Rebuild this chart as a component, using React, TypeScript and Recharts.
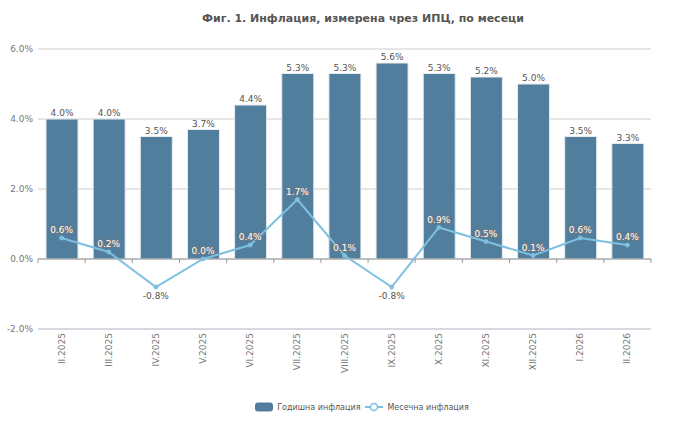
import React from "react";
import {
  ComposedChart,
  Bar,
  Line,
  XAxis,
  YAxis,
  CartesianGrid,
  ReferenceLine,
  LabelList,
  Legend,
} from "recharts";

const categories = [
  "II.2025", "III.2025", "IV.2025", "V.2025", "VI.2025", "VII.2025", "VIII.2025",
  "IX.2025", "X.2025", "XI.2025", "XII.2025", "I.2026", "II.2026",
];
const annualInflation = [4.0, 4.0, 3.5, 3.7, 4.4, 5.3, 5.3, 5.6, 5.3, 5.2, 5.0, 3.5, 3.3];
const monthlyInflation = [0.6, 0.2, -0.8, 0.0, 0.4, 1.7, 0.1, -0.8, 0.9, 0.5, 0.1, 0.6, 0.4];
const yTicks = [-2, 0, 2, 4, 6];

const data = categories.map((c, i) => ({
  name: c,
  annual: annualInflation[i],
  monthly: monthlyInflation[i],
}));

const FONT = "'DejaVu Sans', sans-serif";
const BAR_COLOR = "#527e9e";
const LINE_COLOR = "#7dc0e1";
const TEXT = "#555";

const fmt = (v: number) => `${v.toFixed(1)}%`;

const XTick = (props: any) => {
  const { x, y, payload } = props;
  return (
    <text
      x={x}
      y={y}
      transform={`rotate(-90, ${x}, ${y})`}
      textAnchor="end"
      dominantBaseline="central"
      fill="#777"
      fontSize={9}
      fontFamily={FONT}
    >
      {payload.value}
    </text>
  );
};

const ZeroAxis = (props: any) => {
  const { x1, y1, x2 } = props;
  const n = categories.length;
  const ticks = [];
  for (let i = 0; i <= n; i++) {
    const x = x1 + ((x2 - x1) * i) / n;
    ticks.push(<line key={i} x1={x} x2={x} y1={y1} y2={y1 + 4} stroke="#999" strokeWidth={1} />);
  }
  return (
    <g>
      <line x1={x1} x2={x2} y1={y1} y2={y1} stroke="#999" strokeWidth={1} />
      {ticks}
    </g>
  );
};

const MonthlyLabel = (props: any) => {
  const { x, y, value } = props;
  if (value < 0) {
    return (
      <text x={x} y={y + 9} textAnchor="middle" dominantBaseline="central" fontSize={9} fontFamily={FONT} fill={TEXT}>
        {fmt(value)}
      </text>
    );
  }
  return (
    <text
      x={x}
      y={y - 8}
      textAnchor="middle"
      dominantBaseline="central"
      fontSize={9}
      fontFamily={FONT}
      fill="#fff"
      stroke="#777"
      strokeWidth={1.6}
      paintOrder="stroke"
      strokeLinejoin="round"
    >
      {fmt(value)}
    </text>
  );
};

const LegendContent = () => (
  <div
    style={{
      display: "flex",
      justifyContent: "center",
      alignItems: "center",
      width: 696,
      height: 20,
      paddingLeft: 28,
      boxSizing: "border-box",
      fontFamily: FONT,
      fontSize: 8,
      color: TEXT,
    }}
  >
    <svg width={18} height={10} style={{ marginRight: 4 }}>
      <rect x={0} y={0.5} width={18} height={9} rx={3} fill={BAR_COLOR} />
    </svg>
    <span style={{ marginRight: 5 }}>Годишна инфлация</span>
    <svg width={18} height={10} style={{ marginRight: 4 }}>
      <line x1={0} x2={18} y1={5} y2={5} stroke={LINE_COLOR} strokeWidth={2} />
      <circle cx={9} cy={5} r={3.5} fill="#fff" stroke={LINE_COLOR} strokeWidth={1.5} />
    </svg>
    <span>Месечна инфлация</span>
  </div>
);

export default function App() {
  return (
    <div style={{ position: "absolute", left: 0, top: 0, width: 696, height: 428, background: "#fff", fontFamily: FONT }}>
      <div
        style={{
          position: "absolute",
          top: 12,
          left: 30,
          width: 666,
          textAlign: "center",
          fontWeight: "bold",
          fontSize: 11,
          color: TEXT,
          fontFamily: FONT,
        }}
      >
        Фиг. 1. Инфлация, измерена чрез ИПЦ, по месеци
      </div>
      <ComposedChart
        width={696}
        height={428}
        data={data}
        margin={{ top: 49, right: 45, left: 0, bottom: 0 }}
        barSize={32}
      >
        <CartesianGrid horizontal vertical={false} stroke="#ccc" />
        <XAxis
          dataKey="name"
          axisLine={false}
          tickLine={false}
          tickSize={0}
          tickMargin={4}
          height={79}
          interval={0}
          tick={<XTick />}
        />
        <YAxis
          width={38}
          domain={[-2, 6]}
          ticks={yTicks}
          axisLine={false}
          tickLine={false}
          tickSize={0}
          tickMargin={5}
          tickFormatter={(v: number) => fmt(v)}
          tick={{ fontSize: 9, fill: "#777", fontFamily: FONT }}
        />
        <Legend
          verticalAlign="bottom"
          height={20}
          content={<LegendContent />}
          wrapperStyle={{ top: 397, left: 0, width: 696, height: 20 }}
        />
        <ReferenceLine y={-2} stroke="#d8d8e0" strokeWidth={2} />
        <Bar dataKey="annual" name="Годишна инфлация" fill={BAR_COLOR} stroke="#e6ebef" strokeWidth={1} isAnimationActive={false}>
          <LabelList dataKey="annual" position="top" offset={3} formatter={(v: any) => fmt(Number(v))} style={{ fontSize: 9, fill: TEXT, fontFamily: FONT }} />
        </Bar>
        <ReferenceLine y={0} shape={<ZeroAxis />} />
        <Line
          dataKey="monthly"
          name="Месечна инфлация"
          stroke={LINE_COLOR}
          strokeWidth={2}
          dot={{ r: 2, fill: LINE_COLOR, stroke: LINE_COLOR, strokeWidth: 1 }}
          activeDot={false}
          isAnimationActive={false}
        >
          <LabelList dataKey="monthly" content={<MonthlyLabel />} />
        </Line>
      </ComposedChart>
    </div>
  );
}
